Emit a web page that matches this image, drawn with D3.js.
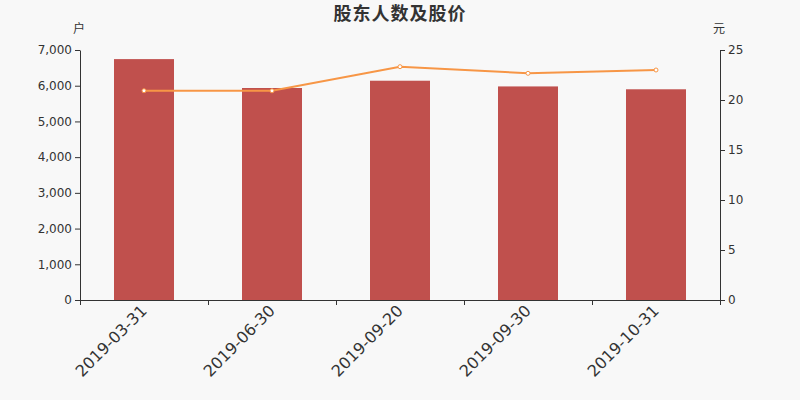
<!DOCTYPE html>
<html>
<head>
<meta charset="utf-8">
<script src="https://cdn.jsdelivr.net/npm/d3@7"></script>
<style>
  body { margin: 0; background: #f8f8f8; }
  svg { display: block; }
  svg text { font-family: "DejaVu Sans", "Noto Sans CJK SC", sans-serif; }
</style>
</head>
<body>
<svg width="800" height="400"></svg>
<script>
var dates = ["2019-03-31", "2019-06-30", "2019-09-20", "2019-09-30", "2019-10-31"];
var holders = [6745, 5936, 6140, 5980, 5900];
var prices = [20.93, 20.92, 23.33, 22.67, 23.0];
var leftTicks = [0, 1000, 2000, 3000, 4000, 5000, 6000, 7000];
var rightTicks = [0, 5, 10, 15, 20, 25];

var svg = d3.select("svg"),
    margin = {top: 50, right: 80, bottom: 100, left: 80},
    width = 800 - margin.left - margin.right,
    height = 400 - margin.top - margin.bottom,
    g = svg.append("g").attr("transform", "translate(" + margin.left + "," + margin.top + ")");

svg.append("rect").attr("width", 800).attr("height", 400).attr("fill", "#f8f8f8").lower();

var x = d3.scaleBand().domain(dates).range([0, width]);
var y = d3.scaleLinear().domain([0, 7000]).range([height, 0]);
var y2 = d3.scaleLinear().domain([0, 25]).range([height, 0]);

// bars
g.selectAll(".bar")
  .data(dates)
  .enter().append("rect")
    .attr("class", "bar")
    .attr("x", function(d) { return x(d) + (x.bandwidth() - 60) / 2; })
    .attr("y", function(d, i) { return y(holders[i]); })
    .attr("width", 60)
    .attr("height", function(d, i) { return height - y(holders[i]); })
    .attr("fill", "#c0504d");

// axes
var xAxis = g.append("g")
    .attr("transform", "translate(0," + height + ")")
    .call(d3.axisBottom(x).tickSize(0).tickSizeOuter(0));
xAxis.selectAll(".tick text")
    .attr("font-size", 16)
    .attr("fill", "#333")
    .attr("text-anchor", "end")
    .attr("transform", "translate(-4,4) rotate(-45)")
    .attr("dy", "0.7em")
    .attr("y", 0);
xAxis.select(".domain").attr("stroke", "#333");
// boundary ticks
xAxis.selectAll(".bt")
  .data(d3.range(dates.length + 1))
  .enter().append("line")
    .attr("x1", function(i) { return i * x.step() + 0.5; })
    .attr("x2", function(i) { return i * x.step() + 0.5; })
    .attr("y1", 0).attr("y2", 5)
    .attr("stroke", "#333");

var yAxis = g.append("g")
    .call(d3.axisLeft(y).tickValues(leftTicks).tickFormat(d3.format(",")).tickSize(5).tickSizeOuter(0));
yAxis.selectAll("text").attr("font-size", 12).attr("fill", "#333");
yAxis.selectAll("line, path").attr("stroke", "#333");

var y2Axis = g.append("g")
    .attr("transform", "translate(" + width + ",0)")
    .call(d3.axisRight(y2).tickValues(rightTicks).tickSize(5).tickSizeOuter(0));
y2Axis.selectAll("text").attr("font-size", 12).attr("fill", "#333");
y2Axis.selectAll("line, path").attr("stroke", "#333");

// line
var line = d3.line()
    .x(function(d, i) { return x(dates[i]) + x.bandwidth() / 2; })
    .y(function(d) { return y2(d); });

g.append("path")
    .datum(prices)
    .attr("fill", "none")
    .attr("stroke", "#f79646")
    .attr("stroke-width", 2)
    .attr("d", line);

g.selectAll(".pt")
  .data(prices)
  .enter().append("circle")
    .attr("cx", function(d, i) { return x(dates[i]) + x.bandwidth() / 2; })
    .attr("cy", function(d) { return y2(d); })
    .attr("r", 2)
    .attr("fill", "#fff")
    .attr("stroke", "#f79646")
    .attr("stroke-width", 1);

// titles
svg.append("text")
    .attr("x", 400).attr("y", 20)
    .attr("text-anchor", "middle")
    .attr("font-size", 18)
    .attr("font-weight", "bold")
    .attr("letter-spacing", 1)
    .attr("fill", "#333")
    .text("股东人数及股价");

svg.append("text")
    .attr("x", 79).attr("y", 33)
    .attr("text-anchor", "middle")
    .attr("font-size", 12)
    .attr("fill", "#333")
    .text("户");

svg.append("text")
    .attr("x", 719).attr("y", 33)
    .attr("text-anchor", "middle")
    .attr("font-size", 12)
    .attr("fill", "#333")
    .text("元");
</script>
</body>
</html>
